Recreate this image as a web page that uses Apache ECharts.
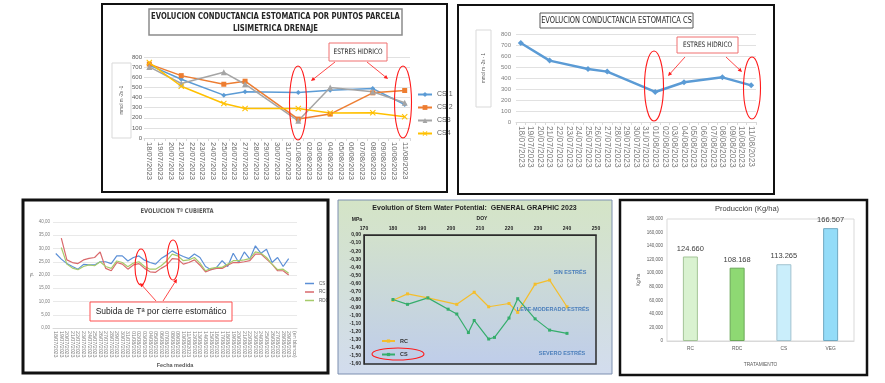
<!DOCTYPE html>
<html><head><meta charset="utf-8">
<script src="https://cdn.jsdelivr.net/npm/echarts@6/dist/echarts.min.js"></script>
<style>html,body{margin:0;padding:0;background:#fff}#c{width:885px;height:383px}</style>
</head><body><div id="c"></div>
<script>
// ---------- DATA ----------
const datesA = ['18/07/2023','19/07/2023','20/07/2023','21/07/2023','22/07/2023','23/07/2023','24/07/2023','25/07/2023','26/07/2023','27/07/2023','28/07/2023','29/07/2023','30/07/2023','31/07/2023','01/08/2023','02/08/2023','03/08/2023','04/08/2023','05/08/2023','06/08/2023','07/08/2023','08/08/2023','09/08/2023','10/08/2023','11/08/2023'];
const cs1 = [720,null,null,580,null,null,null,423,null,456,null,null,null,null,449,null,null,472,null,null,null,488,null,null,331];
const cs2 = [730,null,null,616,null,null,null,531,null,561,null,null,null,null,187,null,null,236,null,null,null,446,null,null,469];
const cs3 = [702,null,null,538,null,null,null,649,null,531,null,null,null,null,170,null,null,498,null,null,null,456,null,null,348];
const cs4 = [745,null,null,511,null,null,null,341,null,292,null,null,null,null,292,null,null,246,null,null,null,249,null,null,210];
const csMean = [718,null,null,558,null,null,null,482,null,458,null,null,null,null,273,null,null,361,null,null,null,406,null,null,333];

const datesC = ['18/07/2023','19/07/2023','20/07/2023','21/07/2023','22/07/2023','23/07/2023','24/07/2023','25/07/2023','26/07/2023','27/07/2023','28/07/2023','29/07/2023','30/07/2023','31/07/2023','01/08/2023','02/08/2023','03/08/2023','04/08/2023','05/08/2023','06/08/2023','07/08/2023','08/08/2023','09/08/2023','10/08/2023','11/08/2023','12/08/2023','13/08/2023','14/08/2023','15/08/2023','16/08/2023','17/08/2023','18/08/2023','19/08/2023','20/08/2023','21/08/2023','22/08/2023','23/08/2023','24/08/2023','25/08/2023','26/08/2023','27/08/2023','28/08/2023','29/08/2023','(en blanco)'];
const tCS  = [28.1,26,24.3,23.2,22.2,24,23.8,23.8,25,25,24.3,27.2,27.2,25.3,26.6,27.2,25.6,24.7,24.1,26.2,27.5,29.1,27.9,27,26.2,27.9,26.6,23.2,22,22.9,25.4,23.2,28.2,24.7,28.7,26,31,28.2,29.7,24.7,26.6,23.2,26.2,null];
const tRC  = [null,33.9,25.7,24.7,24.3,25.7,26.3,26.6,28.7,22.5,21.6,24.7,24.1,22.2,23.8,24.3,22.5,21.2,21,22.5,23.7,26.2,26,24.1,24.7,25.7,23.7,21.2,22,22.5,22.5,23.7,24.7,24.7,25,25.4,27.9,27.9,26,24.1,21.6,21.6,20,null];
const tRDC = [null,30.4,24.1,22.6,22,23.2,23.8,23.5,25,23.2,22.5,25.3,24.7,23.1,24.5,25,23.2,22.2,22.2,23.5,25.3,27.9,27.2,25.4,25.7,26.6,24.5,21.6,22.5,22.9,22.9,24.1,25.4,25.4,25.7,26.2,28.7,28.2,26.6,24.1,22,22.2,20.7,null];

const rcDoy = [180,185,192,202,208,213,220,223,229,234,240];
const rcSwp = [-0.81,-0.73,-0.78,-0.86,-0.71,-0.89,-0.85,-0.96,-0.61,-0.56,-0.89];
const csDoy = [180,185,192,199,202,206,208,213,215,220,223,229,234,240];
const csSwp = [-0.80,-0.86,-0.78,-0.92,-0.98,-1.21,-1.06,-1.29,-1.27,-1.03,-0.79,-1.04,-1.18,-1.22];

const prodCats = ['RC','RDC','CS','VEG'];
const prodVals = [124660,108168,113265,166507];

// ---------- STYLE ----------
const NARROW = '"Liberation Sans Narrow","DejaVu Sans Condensed","Liberation Sans",sans-serif';
const barFill = ['#d9f2d0','#8ed973','#caeefb','#94dcf8'];
const barBorder = ['#a3c497','#6ba858','#a2c3cf','#6fa9c2'];
const xMark = 'path://M0,1.2L1.2,0L5,3.8L8.8,0L10,1.2L6.2,5L10,8.8L8.8,10L5,6.2L1.2,10L0,8.8L3.8,5Z';
const RED = '#ff1a1a';
const fmtComma = v => Math.abs(v) < 1e-9 ? '0,00' : v.toFixed(2).replace('.', ',');
const fmtThousands = v => String(v).replace(/\B(?=(\d{3})+(?!\d))/g, '.');

function arrow(x1,y1,x2,y2,color){
  const a = Math.atan2(y2-y1,x2-x1), L=4, W=2;
  const bx = x2 - L*Math.cos(a), by = y2 - L*Math.sin(a);
  const px = -Math.sin(a)*W, py = Math.cos(a)*W;
  return [
    {type:'line', z:100, shape:{x1:x1,y1:y1,x2:bx,y2:by}, style:{stroke:color, lineWidth:0.8}},
    {type:'polygon', z:100, shape:{points:[[x2,y2],[bx+px,by+py],[bx-px,by-py]]}, style:{fill:color}}
  ];
}
function ell(cx,cy,rx,ry){
  return {type:'ellipse', z:100, shape:{cx:cx,cy:cy,rx:rx,ry:ry}, style:{fill:'none', stroke:RED, lineWidth:1.1}};
}
function txt(t,x,y,o,sx){
  return {type:'text', z:101, x:x, y:y, scaleX:sx||1, style:Object.assign({text:t, x:0, y:0, align:'center', verticalAlign:'middle', fontSize:7, fill:'#262626', fontFamily:'"Liberation Sans",sans-serif'}, o||{})};
}
function rtxt(t,x,y,o){
  return {type:'text', z:101, x:x, y:y, rotation:Math.PI/2, style:Object.assign({text:t, x:0, y:0, align:'center', verticalAlign:'middle', fontSize:5, fill:'#595959', fontFamily:'"Liberation Sans",sans-serif'}, o||{})};
}
function box(x,y,w,h,stroke,lw,fill){
  return {type:'rect', z:99, shape:{x:x,y:y,width:w,height:h}, style:{fill:fill||'none', stroke:stroke, lineWidth:lw}};
}

const elements = [
  {type:'rect', z:-10, shape:{x:338,y:200,width:274,height:174},
   style:{fill:{type:'linear',x:0,y:0,x2:0,y2:1,colorStops:[{offset:0,color:'#d4e4c6'},{offset:1,color:'#d2dcee'}]}, stroke:'#7d8fb0', lineWidth:1}},
  box(102,4,345,188,'#111',2),
  box(458,5,316,189,'#111',2),
  box(23,200,305,173,'#111',3),
  box(620,200,247,175,'#111',2.5),
  // chart A
  box(149,9,253,26,'#8c8c8c',1.5,'#fff'),
  txt('EVOLUCION CONDUCTANCIA ESTOMATICA POR PUNTOS PARCELA\nLISIMETRICA DRENAJE',275.5,22.5,{fontSize:9.3,fontWeight:'bold',fontFamily:NARROW,lineHeight:12.5},0.82),
  box(112,63,19,75,'#d9d9d9',1,'#fff'),
  rtxt('mmol m -2s -1',121.5,100,{fontSize:4.5}),
  box(329,43,58,18,'#f07070',1,'#fff'),
  txt('ESTRES HIDRICO',358,52,{fontSize:7.5,fontFamily:NARROW},0.86),
  ell(298,103,8.5,37), ell(403,102,8.5,36),
  ...arrow(335,62,311,81,RED), ...arrow(367,62,388,79,RED),
  // chart B
  box(540,13,153,15,'#595959',1,'#fff'),
  txt('EVOLUCION CONDUCTANCIA ESTOMATICA CS',616.5,20.5,{fontSize:9.5,fontFamily:NARROW},0.78),
  box(476,30,15,77,'#d9d9d9',1,'#fff'),
  rtxt('mmol m -2s - 1',483.5,68,{fontSize:4.5}),
  box(677,37,61,16,'#f07070',1,'#fff'),
  txt('ESTRES HIDRICO',707.5,45,{fontSize:7.5,fontFamily:NARROW},0.86),
  ell(654,86,9.5,35), ell(752,88,8.5,31),
  ...arrow(685,57,668,76,RED), ...arrow(726,57,742,72,RED),
  // chart C
  txt('EVOLUCION Tª CUBIERTA',177,211,{fontSize:6.5,fontWeight:'bold',fill:'#595959',fontFamily:NARROW},0.9),
  box(90,302,142,19,'#ff5050',1,'#fff'),
  txt('Subida de Tª por cierre estomático',161,311.5,{fontSize:8.5,fill:'#222'}),
  ell(141,267,6,18), ell(173,260,6,20),
  ...arrow(156,301,140,283,RED), ...arrow(163,301,177,279,RED),
  // chart D
  txt('Evolution of Stem Water Potential:  GENERAL GRAPHIC 2023',474.5,208,{fontSize:7,fontWeight:'bold',fill:'#1f1f1f'}),
  txt('MPa',357,220,{fontSize:5,fontWeight:'bold'}),
  txt('DOY',482,219,{fontSize:5,fontWeight:'bold'}),
  txt('SIN ESTRÉS',570,272,{fontSize:5.5,fontWeight:'bold',fill:'#4a7ebb'}),
  txt('LEVE-MODERADO ESTRÉS',553,309,{fontSize:5.5,fontWeight:'bold',fill:'#4a7ebb'}),
  txt('SEVERO ESTRÉS',562,353,{fontSize:5.5,fontWeight:'bold',fill:'#4a7ebb'}),
  ell(398,354,26,6),
  // chart E
  txt('Producción (Kg/ha)',747,209,{fontSize:7.5,fill:'#404040'})
];

const option = {
  animation:false,
  backgroundColor:'#fff',
  textStyle:{fontFamily:'"Liberation Sans",Arial,sans-serif'},
  grid:[
    {left:144, top:57, width:266, height:81},
    {left:516, top:34, width:240, height:88},
    {left:53, top:222, width:244, height:106},
    {left:364, top:235, width:232, height:129, show:true, borderColor:'#2b2b2b', borderWidth:1.5,
      backgroundColor:{type:'linear',x:0,y:0,x2:0,y2:1,colorStops:[{offset:0,color:'#d2e1cc'},{offset:1,color:'#bfcdea'}]}},
    {left:667, top:219, width:187, height:122, show:true, borderColor:'#d9d9d9', borderWidth:1, backgroundColor:'transparent'}
  ].map(g => Object.assign({containLabel:false, outerBoundsMode:'none'}, g)),
  xAxis:[
    {gridIndex:0, type:'category', data:datesA, boundaryGap:true,
      axisLine:{lineStyle:{color:'#d9d9d9'}}, axisTick:{show:true,length:3,lineStyle:{color:'#d9d9d9'}},
      axisLabel:{rotate:-90, interval:0, fontSize:7.6, color:'#666', margin:4}},
    {gridIndex:1, type:'category', data:datesA, boundaryGap:true,
      axisLine:{lineStyle:{color:'#d9d9d9'}}, axisTick:{show:true,length:3,lineStyle:{color:'#d9d9d9'}},
      axisLabel:{rotate:-90, interval:0, fontSize:8.3, color:'#7f7f7f', margin:4}},
    {gridIndex:2, type:'category', data:datesC, boundaryGap:true,
      axisLine:{lineStyle:{color:'#d9d9d9'}}, axisTick:{show:false},
      axisLabel:{rotate:-90, interval:0, fontSize:5.3, color:'#7f7f7f', margin:3},
      name:'Fecha medida', nameLocation:'middle', nameGap:34, nameTextStyle:{fontSize:5.5, color:'#595959', fontWeight:'bold'}},
    {gridIndex:3, type:'value', position:'top', min:170, max:250, interval:10,
      axisLine:{show:true, lineStyle:{color:'#2b2b2b'}}, axisTick:{show:false}, splitLine:{show:false},
      axisLabel:{fontSize:5, fontWeight:'bold', color:'#1f1f1f', margin:4}},
    {gridIndex:4, type:'category', data:prodCats,
      axisLine:{lineStyle:{color:'#d9d9d9'}}, axisTick:{show:false},
      axisLabel:{fontSize:4.8, color:'#595959', margin:5},
      name:'TRATAMIENTO', nameLocation:'middle', nameGap:21, nameTextStyle:{fontSize:4.8, color:'#595959'}}
  ],
  yAxis:[
    {gridIndex:0, type:'value', min:0, max:800, interval:100, axisLine:{show:false}, axisTick:{show:false},
      splitLine:{lineStyle:{color:'#d9d9d9', width:0.8}}, axisLabel:{fontSize:6, color:'#595959', margin:2}},
    {gridIndex:1, type:'value', min:0, max:800, interval:100, axisLine:{show:false}, axisTick:{show:false},
      splitLine:{lineStyle:{color:'#d9d9d9', width:0.8}}, axisLabel:{fontSize:6, color:'#7f7f7f', margin:5}},
    {gridIndex:2, type:'value', min:0, max:40, interval:5, axisLine:{show:false}, axisTick:{show:false},
      splitLine:{lineStyle:{color:'#e3e3e3', width:0.8}}, axisLabel:{fontSize:4.5, color:'#7f7f7f', margin:3, formatter:fmtComma},
      name:'Tª', nameLocation:'middle', nameGap:16, nameRotate:90, nameTextStyle:{fontSize:4.5, color:'#595959'}},
    {gridIndex:3, type:'value', min:-1.6, max:0, interval:0.1, axisLine:{show:true, lineStyle:{color:'#2b2b2b'}}, axisTick:{show:false},
      splitLine:{show:false}, axisLabel:{fontSize:5, fontWeight:'bold', color:'#1f1f1f', margin:3, formatter:fmtComma}},
    {gridIndex:4, type:'value', min:0, max:180000, interval:20000, axisLine:{show:false}, axisTick:{show:false},
      splitLine:{show:false}, axisLabel:{fontSize:4.5, color:'#595959', margin:4},
      name:'Kg/ha', nameLocation:'middle', nameGap:26, nameRotate:90, nameTextStyle:{fontSize:4.8, color:'#595959'}}
  ],
  legend:[
    {data:['CS 1','CS 2','CS3','CS4'], orient:'vertical', left:417, top:91, itemGap:6, itemWidth:14, itemHeight:6, padding:0,
      textStyle:{fontSize:7, color:'#595959'}},
    {data:['CS','RC','RDC'], orient:'vertical', left:305, top:281, itemGap:3.5, itemWidth:9, itemHeight:1.5, icon:'rect', padding:0,
      textStyle:{fontSize:4.5, color:'#595959'}},
    {data:['RC ','CS '], orient:'vertical', left:381, top:338, itemGap:7.5, itemWidth:13, itemHeight:4, padding:0,
      textStyle:{fontSize:5.5, fontWeight:'bold', color:'#333'}}
  ],
  series:[
    {name:'CS 1', type:'line', xAxisIndex:0, yAxisIndex:0, data:cs1, connectNulls:true, symbol:'diamond', symbolSize:5, color:'#5b9bd5', lineStyle:{width:1.5}},
    {name:'CS 2', type:'line', xAxisIndex:0, yAxisIndex:0, data:cs2, connectNulls:true, symbol:'rect', symbolSize:5, color:'#ed7d31', lineStyle:{width:1.5}},
    {name:'CS3', type:'line', xAxisIndex:0, yAxisIndex:0, data:cs3, connectNulls:true, symbol:'triangle', symbolSize:6, color:'#a5a5a5', lineStyle:{width:1.5}},
    {name:'CS4', type:'line', xAxisIndex:0, yAxisIndex:0, data:cs4, connectNulls:true, symbol:xMark, symbolSize:6, color:'#ffc000', lineStyle:{width:1.5}},
    {name:'Conductancia CS', type:'line', xAxisIndex:1, yAxisIndex:1, data:csMean, connectNulls:true, symbol:'diamond', symbolSize:6, color:'#5b9bd5', lineStyle:{width:2.5}},
    {name:'CS', type:'line', xAxisIndex:2, yAxisIndex:2, data:tCS, symbol:'none', color:'#5b8fd6', lineStyle:{width:1.2}},
    {name:'RC', type:'line', xAxisIndex:2, yAxisIndex:2, data:tRC, symbol:'none', color:'#d9696c', lineStyle:{width:1.2}},
    {name:'RDC', type:'line', xAxisIndex:2, yAxisIndex:2, data:tRDC, symbol:'none', color:'#a6cb6b', lineStyle:{width:1.2}},
    {name:'RC ', type:'line', xAxisIndex:3, yAxisIndex:3, data:rcDoy.map((d,i)=>[d,rcSwp[i]]), symbol:'rect', symbolSize:3, color:'#f4be2c', lineStyle:{width:1.2}},
    {name:'CS ', type:'line', xAxisIndex:3, yAxisIndex:3, data:csDoy.map((d,i)=>[d,csSwp[i]]), symbol:'rect', symbolSize:3, color:'#35ad6c', lineStyle:{width:1.2}},
    {name:'Producción', type:'bar', xAxisIndex:4, yAxisIndex:4, barWidth:15,
      data:prodVals.map((v,i)=>({value:v, itemStyle:{color:barFill[i], borderColor:barBorder[i], borderWidth:1}})),
      label:{show:true, position:'top', distance:4, fontSize:7.5, color:'#404040', formatter:p=>fmtThousands(p.value)}}
  ],
  graphic:{elements:elements}
};
const chart = echarts.init(document.getElementById('c'), null, {renderer:'canvas'});
chart.setOption(option);
</script></body></html>
